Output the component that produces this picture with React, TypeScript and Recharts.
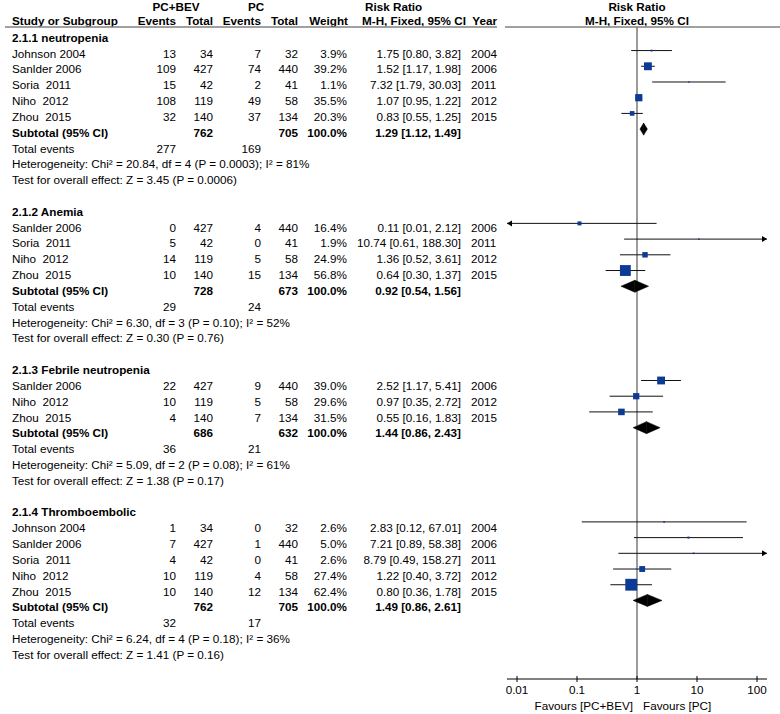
import React from 'react';
import {Customized, ReferenceLine, Scatter, ScatterChart, XAxis, YAxis} from 'recharts';

const FONT = '"Liberation Sans", Arial, sans-serif';
const FS = 11.7;

const sectionTitles = ['2.1.1 neutropenia', '2.1.2 Anemia', '2.1.3 Febrile neutropenia', '2.1.4 Thromboembolic'];

// e1/n1 = PC+BEV events/total, e2/n2 = PC events/total, w = weight %, rr [lo, hi]
const neutropenia = [
    {name: 'Johnson 2004', e1: 13, n1: 34, e2: 7, n2: 32, w: 3.9, rr: 1.75, lo: 0.80, hi: 3.82, year: 2004},
    {name: 'Sanlder 2006', e1: 109, n1: 427, e2: 74, n2: 440, w: 39.2, rr: 1.52, lo: 1.17, hi: 1.98, year: 2006},
    {name: 'Soria  2011', e1: 15, n1: 42, e2: 2, n2: 41, w: 1.1, rr: 7.32, lo: 1.79, hi: 30.03, year: 2011},
    {name: 'Niho  2012', e1: 108, n1: 119, e2: 49, n2: 58, w: 35.5, rr: 1.07, lo: 0.95, hi: 1.22, year: 2012},
    {name: 'Zhou  2015', e1: 32, n1: 140, e2: 37, n2: 134, w: 20.3, rr: 0.83, lo: 0.55, hi: 1.25, year: 2015},
];
const anemia = [
    {name: 'Sanlder 2006', e1: 0, n1: 427, e2: 4, n2: 440, w: 16.4, rr: 0.11, lo: 0.01, hi: 2.12, year: 2006},
    {name: 'Soria  2011', e1: 5, n1: 42, e2: 0, n2: 41, w: 1.9, rr: 10.74, lo: 0.61, hi: 188.30, year: 2011},
    {name: 'Niho  2012', e1: 14, n1: 119, e2: 5, n2: 58, w: 24.9, rr: 1.36, lo: 0.52, hi: 3.61, year: 2012},
    {name: 'Zhou  2015', e1: 10, n1: 140, e2: 15, n2: 134, w: 56.8, rr: 0.64, lo: 0.30, hi: 1.37, year: 2015},
];
const febrile = [
    {name: 'Sanlder 2006', e1: 22, n1: 427, e2: 9, n2: 440, w: 39.0, rr: 2.52, lo: 1.17, hi: 5.41, year: 2006},
    {name: 'Niho  2012', e1: 10, n1: 119, e2: 5, n2: 58, w: 29.6, rr: 0.97, lo: 0.35, hi: 2.72, year: 2012},
    {name: 'Zhou  2015', e1: 4, n1: 140, e2: 7, n2: 134, w: 31.5, rr: 0.55, lo: 0.16, hi: 1.83, year: 2015},
];
const thrombo = [
    {name: 'Johnson 2004', e1: 1, n1: 34, e2: 0, n2: 32, w: 2.6, rr: 2.83, lo: 0.12, hi: 67.01, year: 2004},
    {name: 'Sanlder 2006', e1: 7, n1: 427, e2: 1, n2: 440, w: 5.0, rr: 7.21, lo: 0.89, hi: 58.38, year: 2006},
    {name: 'Soria  2011', e1: 4, n1: 42, e2: 0, n2: 41, w: 2.6, rr: 8.79, lo: 0.49, hi: 158.27, year: 2011},
    {name: 'Niho  2012', e1: 10, n1: 119, e2: 4, n2: 58, w: 27.4, rr: 1.22, lo: 0.40, hi: 3.72, year: 2012},
    {name: 'Zhou  2015', e1: 10, n1: 140, e2: 12, n2: 134, w: 62.4, rr: 0.80, lo: 0.36, hi: 1.78, year: 2015},
];

const subtotals = [
    {n1: 762, n2: 705, rr: 1.29, lo: 1.12, hi: 1.49},
    {n1: 728, n2: 673, rr: 0.92, lo: 0.54, hi: 1.56},
    {n1: 686, n2: 632, rr: 1.44, lo: 0.86, hi: 2.43},
    {n1: 762, n2: 705, rr: 1.49, lo: 0.86, hi: 2.61},
];
const totalEvents = [[277, 169], [29, 24], [36, 21], [32, 17]];
const heterogeneity = [
    'Heterogeneity: Chi² = 20.84, df = 4 (P = 0.0003); I² = 81%',
    'Heterogeneity: Chi² = 6.30, df = 3 (P = 0.10); I² = 52%',
    'Heterogeneity: Chi² = 5.09, df = 2 (P = 0.08); I² = 61%',
    'Heterogeneity: Chi² = 6.24, df = 4 (P = 0.18); I² = 36%',
];
const overallTests = [
    'Test for overall effect: Z = 3.45 (P = 0.0006)',
    'Test for overall effect: Z = 0.30 (P = 0.76)',
    'Test for overall effect: Z = 1.38 (P = 0.17)',
    'Test for overall effect: Z = 1.41 (P = 0.16)',
];
const axisTicks = [0.01, 0.1, 1, 10, 100];

// axis runs a sixth of a decade past the outer ticks
const edge = Math.pow(10, 1 / 6);
const xMin = axisTicks[0] / edge;
const xMax = axisTicks[axisTicks.length - 1] * edge;

// table columns (text anchors)
const COL = {label: 12, e1: 176, n1: 213, e2: 261, n2: 298, w: 347, ci: 461, year: 471};

const tableRows: any[] = [];
const studyPoints: any[] = [];
const subtotalPoints: any[] = [];
let row = 0;
[neutropenia, anemia, febrile, thrombo].forEach((studies, i) => {
    tableRows.push({x: 1, y: row++, kind: 'title', text: sectionTitles[i]});
    studies.forEach(s => {
        tableRows.push({x: 1, y: row, kind: 'study', ...s});
        studyPoints.push({x: s.rr, y: row, w: s.w, lo: s.lo, hi: s.hi});
        row++;
    });
    tableRows.push({x: 1, y: row, kind: 'subtotal', ...subtotals[i]});
    subtotalPoints.push({...subtotals[i], y: row});
    row++;
    tableRows.push({x: 1, y: row++, kind: 'events', t1: totalEvents[i][0], t2: totalEvents[i][1]});
    tableRows.push({x: 1, y: row++, kind: 'text', text: heterogeneity[i]});
    tableRows.push({x: 1, y: row++, kind: 'text', text: overallTests[i]});
    row++;
});

const ci = (d: any) => `${d.rr.toFixed(2)} [${d.lo.toFixed(2)}, ${d.hi.toFixed(2)}]`;

const Txt = ({x, y, anchor = 'end', bold = false, children}: any) => (
    <text x={x} y={y} textAnchor={anchor} fontWeight={bold ? 'bold' : 'normal'} fontFamily={FONT}
          fontSize={FS} fill="#000" xmlSpace="preserve" style={{whiteSpace: 'pre'}}>{children}</text>
);

const TableRow = (props: any) => {
    const {cy, payload: p} = props;
    const y = cy + 4.2;
    if (p.kind === 'title') return <Txt x={COL.label} y={y} anchor="start" bold>{p.text}</Txt>;
    if (p.kind === 'text') return <Txt x={COL.label} y={y} anchor="start">{p.text}</Txt>;
    if (p.kind === 'events') {
        return (
            <g>
                <Txt x={COL.label} y={y} anchor="start">Total events</Txt>
                <Txt x={COL.e1} y={y}>{p.t1}</Txt>
                <Txt x={COL.e2} y={y}>{p.t2}</Txt>
            </g>
        );
    }
    if (p.kind === 'subtotal') {
        return (
            <g>
                <Txt x={COL.label} y={y} anchor="start" bold>Subtotal (95% CI)</Txt>
                <Txt x={COL.n1} y={y} bold>{p.n1}</Txt>
                <Txt x={COL.n2} y={y} bold>{p.n2}</Txt>
                <Txt x={COL.w} y={y} bold>100.0%</Txt>
                <Txt x={COL.ci} y={y} bold>{ci(p)}</Txt>
            </g>
        );
    }
    return (
        <g>
            <Txt x={COL.label} y={y} anchor="start">{p.name}</Txt>
            <Txt x={COL.e1} y={y}>{p.e1}</Txt>
            <Txt x={COL.n1} y={y}>{p.n1}</Txt>
            <Txt x={COL.e2} y={y}>{p.e2}</Txt>
            <Txt x={COL.n2} y={y}>{p.n2}</Txt>
            <Txt x={COL.w} y={y}>{p.w.toFixed(1)}%</Txt>
            <Txt x={COL.ci} y={y}>{ci(p)}</Txt>
            <Txt x={COL.year} y={y} anchor="start">{p.year}</Txt>
        </g>
    );
};

const Square = (props: any) => {
    const {cx, cy, payload} = props;
    const s = 0.17 * payload.w + 1.2;
    return <rect x={cx - s / 2} y={cy - s / 2} width={s} height={s} fill="#0d3a94"/>;
};

const CiLine = ({x1, y1, x2, leftClip, rightClip}: any) => (
    <g>
        <line x1={x1} y1={y1} x2={x2} y2={y1} stroke="#111" strokeWidth={1}/>
        {leftClip && <polygon points={`${x1},${y1} ${x1 + 5},${y1 - 3} ${x1 + 5},${y1 + 3}`} fill="#000"/>}
        {rightClip && <polygon points={`${x2},${y1} ${x2 - 5},${y1 - 3} ${x2 - 5},${y1 + 3}`} fill="#000"/>}
    </g>
);

const HalfDiamond = ({x1, y1, x2, side}: any) => {
    const h = 6;
    const pts = side === 'left'
        ? `${x1},${y1} ${x2},${y1 - h} ${x2},${y1 + h}`
        : `${x1},${y1 - h} ${x2},${y1} ${x1},${y1 + h}`;
    return <polygon points={pts} fill="#000" stroke="#000" strokeWidth={0.5}/>;
};

const AxisTick = (props: any) => {
    const {x, y, payload} = props;
    return (
        <g>
            <line x1={x} x2={x} y1={y - 3} y2={y + 3} stroke="#000"/>
            <Txt x={x} y={y + 15} anchor="middle">{String(payload.value)}</Txt>
            {payload.value === 1 && (
                <g>
                    <Txt x={x - 4} y={y + 31} anchor="end">Favours [PC+BEV]</Txt>
                    <Txt x={x + 6} y={y + 31} anchor="start">Favours [PC]</Txt>
                </g>
            )}
        </g>
    );
};

const HeaderLayer = () => (
    <g>
        <Txt x={176} y={10.5} anchor="middle" bold>PC+BEV</Txt>
        <Txt x={256} y={10.5} anchor="middle" bold>PC</Txt>
        <Txt x={365} y={10.5} anchor="start" bold>Risk Ratio</Txt>
        <Txt x={637} y={10.5} anchor="middle" bold>Risk Ratio</Txt>
        <Txt x={COL.label} y={25} anchor="start" bold>Study or Subgroup</Txt>
        <Txt x={COL.e1} y={25} bold>Events</Txt>
        <Txt x={COL.n1} y={25} bold>Total</Txt>
        <Txt x={COL.e2} y={25} bold>Events</Txt>
        <Txt x={COL.n2} y={25} bold>Total</Txt>
        <Txt x={348} y={25} bold>Weight</Txt>
        <Txt x={362} y={25} anchor="start" bold>M-H, Fixed, 95% CI</Txt>
        <Txt x={497} y={25} bold>Year</Txt>
        <Txt x={637} y={25} anchor="middle" bold>M-H, Fixed, 95% CI</Txt>
        <line x1={5} x2={497} y1={27} y2={27} stroke="#808080" strokeWidth={1.3}/>
        <line x1={505} x2={780} y1={27} y2={27} stroke="#808080" strokeWidth={1.3}/>
    </g>
);

export default function App() {
    return (
        <div style={{position: 'absolute', left: 0, top: 0, background: '#fff'}}>
            <ScatterChart width={780} height={714} margin={{top: 27, right: 13, bottom: 5, left: 507}}>
                <XAxis type="number" dataKey="x" scale="log" domain={[xMin, xMax]} ticks={axisTicks}
                       interval={0} height={30} tickLine={false} tickSize={0} tickMargin={0}
                       axisLine={{stroke: '#000', strokeWidth: 1}} tick={<AxisTick/>}/>
                <YAxis type="number" dataKey="y" domain={[-0.5, 41]} reversed hide width={0}/>
                {/* the text table is set on slightly wider row spacing than the plot marks */}
                <YAxis yAxisId="table" type="number" dataKey="y" domain={[-0.67, 40.54]} reversed hide width={0}/>
                <ReferenceLine x={1} stroke="#7a7a7a" strokeWidth={1.5} ifOverflow="visible"/>
                {studyPoints.map((s, i) => {
                    const leftClip = s.lo <= axisTicks[0];
                    const rightClip = s.hi >= axisTicks[axisTicks.length - 1];
                    return (
                        <ReferenceLine key={'ci' + i} ifOverflow="visible"
                                       segment={[{x: leftClip ? xMin : s.lo, y: s.y}, {x: rightClip ? xMax : s.hi, y: s.y}]}
                                       shape={(p: any) => <CiLine {...p} leftClip={leftClip} rightClip={rightClip}/>}/>
                    );
                })}
                {subtotalPoints.map((d, i) => (
                    <ReferenceLine key={'dl' + i} ifOverflow="visible"
                                   segment={[{x: d.lo, y: d.y}, {x: d.rr, y: d.y}]}
                                   shape={(p: any) => <HalfDiamond {...p} side="left"/>}/>
                ))}
                {subtotalPoints.map((d, i) => (
                    <ReferenceLine key={'dr' + i} ifOverflow="visible"
                                   segment={[{x: d.rr, y: d.y}, {x: d.hi, y: d.y}]}
                                   shape={(p: any) => <HalfDiamond {...p} side="right"/>}/>
                ))}
                <Scatter data={studyPoints} shape={<Square/>} isAnimationActive={false}/>
                <Scatter data={tableRows} yAxisId="table" shape={<TableRow/>} isAnimationActive={false}/>
                <Customized component={HeaderLayer}/>
            </ScatterChart>
        </div>
    );
}
